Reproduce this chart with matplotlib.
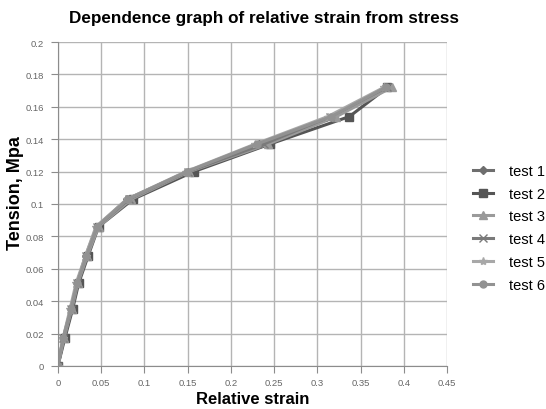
import matplotlib
matplotlib.use("Agg")
import matplotlib.pyplot as plt

plt.rcParams["font.family"] = ["Liberation Sans", "DejaVu Sans"]

labels = ["test 1", "test 2", "test 3", "test 4", "test 5", "test 6"]
stress = [0.0, 0.017, 0.035, 0.051, 0.068, 0.086, 0.103, 0.120, 0.137, 0.154, 0.172]
strain_t1 = [0.0, 0.007, 0.015, 0.022, 0.033, 0.045, 0.080, 0.150, 0.232, 0.318, 0.378]
strain_t2 = [0.0, 0.008, 0.017, 0.024, 0.035, 0.047, 0.087, 0.157, 0.245, 0.337, 0.381]
strain_t3 = [0.0, 0.007, 0.016, 0.023, 0.034, 0.047, 0.085, 0.152, 0.243, 0.322, 0.386]
strain_t4 = [0.0, 0.006, 0.015, 0.022, 0.032, 0.045, 0.082, 0.150, 0.238, 0.315, 0.380]
strain_t5 = [0.0, 0.006, 0.014, 0.021, 0.032, 0.044, 0.080, 0.148, 0.228, 0.312, 0.377]
strain_t6 = [0.0, 0.006, 0.015, 0.022, 0.033, 0.045, 0.081, 0.149, 0.230, 0.316, 0.379]
strains = [strain_t1, strain_t2, strain_t3, strain_t4, strain_t5, strain_t6]

colors = ["#6e6e6e", "#555555", "#9a9a9a", "#7a7a7a", "#a8a8a8", "#929292"]
markers = ["D", "s", "^", "x", "*", "o"]
msizes = [4, 6, 6, 6, 6, 5]

fig = plt.figure(figsize=(5.46, 4.10), dpi=100)
ax = fig.add_axes([0.106, 0.105, 0.713, 0.79])

for s, lab, c, m, ms in zip(strains, labels, colors, markers, msizes):
    ax.plot(s, stress, color=c, marker=m, markersize=ms, linewidth=2.2, label=lab,
            markeredgecolor=c)

ax.set_xlim(0, 0.45)
ax.set_ylim(0, 0.2)
xt = [0, 0.05, 0.1, 0.15, 0.2, 0.25, 0.3, 0.35, 0.4, 0.45]
yt = [0, 0.02, 0.04, 0.06, 0.08, 0.1, 0.12, 0.14, 0.16, 0.18, 0.2]
ax.set_xticks(xt)
ax.set_xticklabels(["0", "0.05", "0.1", "0.15", "0.2", "0.25", "0.3", "0.35", "0.4", "0.45"])
ax.set_yticks(yt)
ax.set_yticklabels(["0", "0.02", "0.04", "0.06", "0.08", "0.1", "0.12", "0.14", "0.16", "0.18", "0.2"])
ax.grid(True, color="#b4b4b4", linewidth=1)
ax.set_axisbelow(True)
for sp in ["top", "right"]:
    ax.spines[sp].set_visible(False)
for sp in ["left", "bottom"]:
    ax.spines[sp].set_color("#8c8c8c")
ax.tick_params(axis="both", colors="#8c8c8c", labelcolor="#666666", labelsize=6.8,
               length=5, direction="out")
ax.tick_params(axis="y", pad=5)

ax.set_xlabel("Relative strain", fontsize=12, fontweight="bold", labelpad=3)
ax.set_ylabel("Tension, Mpa", fontsize=13, fontweight="bold")
ax.yaxis.set_label_coords(-0.108, 0.537)
ax.yaxis.label.set_verticalalignment("center")
fig.text(0.484, 0.955, "Dependence graph of relative strain from stress",
         ha="center", va="center", fontsize=12.3, fontweight="bold")

leg = fig.legend(loc="upper left", bbox_to_anchor=(0.855, 0.612), frameon=False,
                 borderaxespad=0, fontsize=10.5, handlelength=1.4, labelspacing=0.6,
                 handletextpad=1.1)

fig.savefig("out.png", dpi=100)
